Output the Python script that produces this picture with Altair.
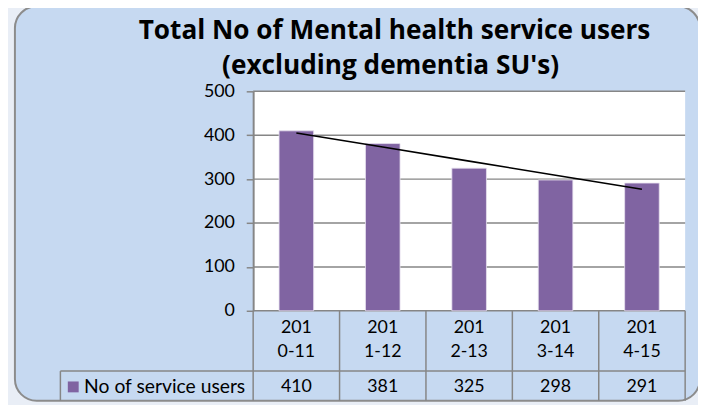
import altair as alt
import pandas as pd
import numpy as np

# ---- data ----
categories = ["2010-11", "2011-12", "2012-13", "2013-14", "2014-15"]
values = [410, 381, 325, 298, 291]
y_ticks = [0, 100, 200, 300, 400, 500]
series_name = "No of service users"
title_lines = ["Total No of Mental health service users", "(excluding dementia SU's)"]

# ---- derived tables ----
idx = np.arange(1, len(values) + 1)
slope, intercept = np.polyfit(idx, values, 1)
df = pd.DataFrame({
    "cat": categories,
    "value": values,
    "line1": [c[:3] for c in categories],
    "line2": [c[3:] for c in categories],
    "trend": intercept + slope * idx,
})
ticks_df = pd.DataFrame({"t": y_ticks})
one = pd.DataFrame({"k": [0]})

W, H = 437, 222
FONT = "Lato"
GRAY = "#868686"
PURPLE = "#8064a2"
BOTTOM = 313

xscale = alt.Scale(domain=categories, paddingInner=0, paddingOuter=0)
yscale = alt.Scale(domain=[0, 500], nice=False, zero=True)
yaxis = alt.Axis(values=y_ticks, grid=False, title=None, domainColor=GRAY, domainWidth=2,
                 tickColor=GRAY, tickWidth=1.5, tickSize=7, labelPadding=12,
                 labelFont=FONT, labelFontSize=18, labelColor="black", zindex=1)
xenc = alt.X("cat:N", scale=xscale, axis=None, sort=categories)

bg = alt.Chart(one).mark_rect(cornerRadius=22, fill="#c6d9f1", stroke="#8c8c8c", strokeWidth=2).encode(
    x=alt.value(-241), x2=alt.value(452), y=alt.value(-86), y2=alt.value(BOTTOM))

plotbg = alt.Chart(one).mark_rect(fill="white").encode(
    x=alt.value(0), x2=alt.value(W), y=alt.value(0), y2=alt.value(H))

grid = alt.Chart(ticks_df).mark_rule(color=GRAY, strokeWidth=1.5).encode(
    y=alt.Y("t:Q", scale=yscale, axis=yaxis), x=alt.value(0), x2=alt.value(W))

bars = alt.Chart(df).mark_bar(size=35, color=PURPLE, stroke="#e8e2f0", strokeWidth=0.8).encode(
    x=xenc, y=alt.Y("value:Q", scale=yscale, axis=yaxis))

trend = alt.Chart(df).mark_line(color="black", strokeWidth=1.6).encode(
    x=xenc, y=alt.Y("trend:Q", scale=yscale, axis=yaxis))

vlines = alt.Chart(df).mark_rule(color=GRAY, strokeWidth=1.5).encode(
    x=alt.X("cat:N", scale=xscale, axis=None, sort=categories, bandPosition=0),
    y=alt.value(H), y2=alt.value(BOTTOM))

rline = alt.Chart(one).mark_rule(color=GRAY, strokeWidth=1.5).encode(
    x=alt.value(W), y=alt.value(H), y2=alt.value(BOTTOM))

hline = alt.Chart(one).mark_rule(color=GRAY, strokeWidth=1.5).encode(
    x=alt.value(-195), x2=alt.value(W), y=alt.value(283))

lcell = alt.Chart(one).mark_rule(color=GRAY, strokeWidth=1.5).encode(
    x=alt.value(-195), y=alt.value(283), y2=alt.value(BOTTOM))

txt = dict(font=FONT, fontSize=18, color="black", baseline="middle", align="center")
lab1 = alt.Chart(df).mark_text(**txt).encode(x=xenc, y=alt.value(239), text="line1:N")
lab2 = alt.Chart(df).mark_text(**txt).encode(x=xenc, y=alt.value(264), text="line2:N")
vals = alt.Chart(df).mark_text(**txt).encode(x=xenc, y=alt.value(299), text="value:Q")

legsq = alt.Chart(one).mark_square(size=121, color=PURPLE, opacity=1).encode(
    x=alt.value(-182), y=alt.value(299))
legtxt = alt.Chart(one).mark_text(font=FONT, fontSize=19.5, color="black", baseline="middle", align="left").encode(
    x=alt.value(-171), y=alt.value(299), text=alt.value(series_name))

tstyle = dict(font="Open Sans", fontSize=26.5, fontWeight="bold", color="black",
              baseline="alphabetic", align="center")
t1 = alt.Chart(one).mark_text(**tstyle).encode(
    x=alt.value(143), y=alt.value(-53), text=alt.value(title_lines[0]))
t2 = alt.Chart(one).mark_text(**tstyle).encode(
    x=alt.value(139), y=alt.value(-18), text=alt.value(title_lines[1]))

chart = alt.layer(bg, plotbg, grid, bars, trend, vlines, rline, hline, lcell,
                  lab1, lab2, vals, legsq, legtxt, t1, t2).properties(
    width=W, height=H,
    autosize=alt.AutoSizeParams(type="none"),
    padding={"left": 248, "top": 82, "right": 13, "bottom": 93},
    background="#e9eef6",
).configure_view(stroke=None)

chart.save("out.html", embed_options={"renderer": "svg", "actions": False})
